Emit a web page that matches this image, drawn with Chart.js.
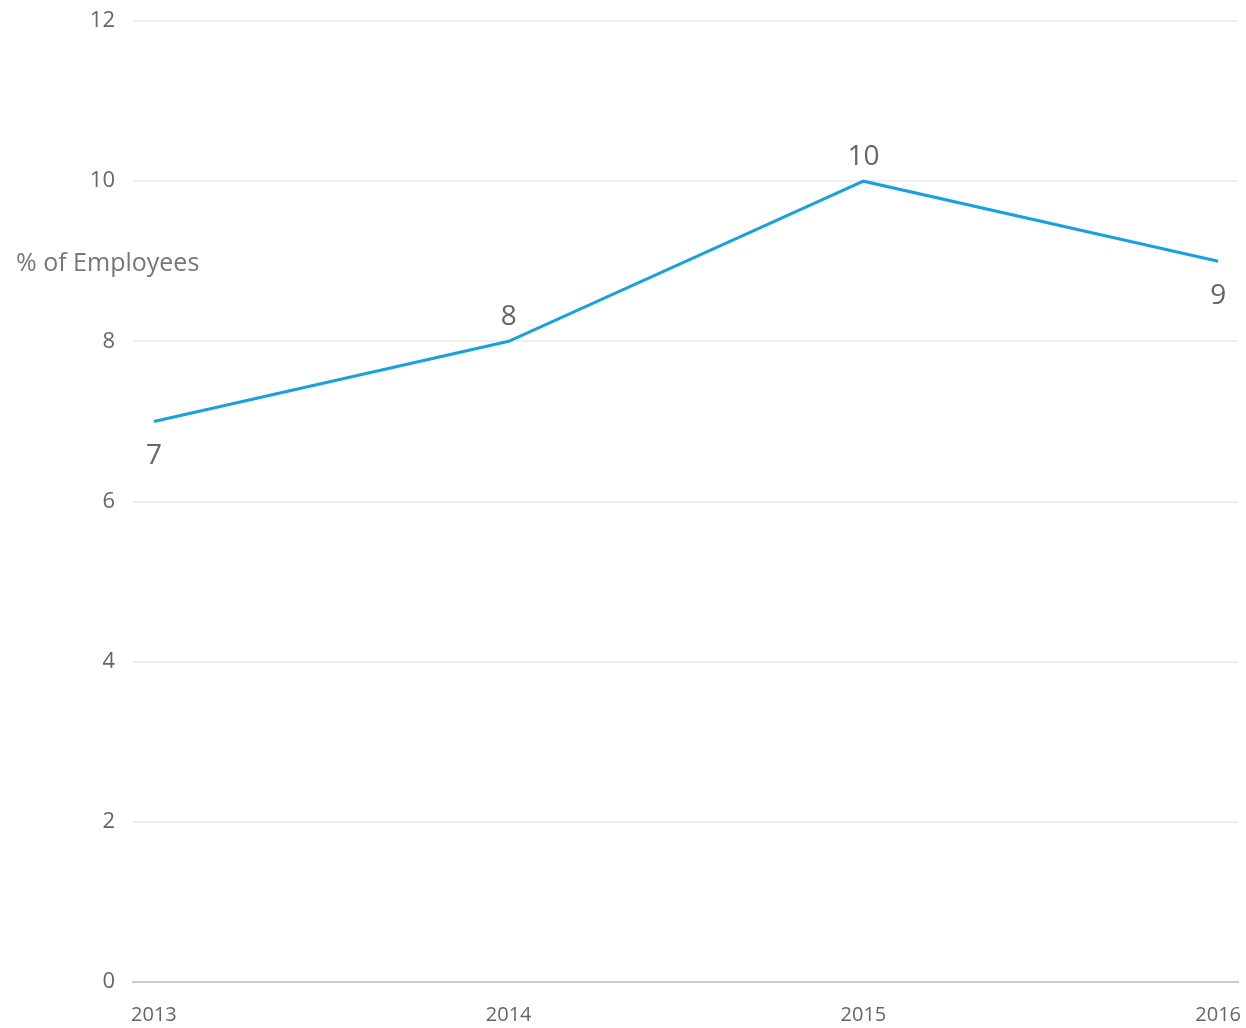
<!DOCTYPE html>
<html>
<head>
<meta charset="utf-8">
<script src="https://cdn.jsdelivr.net/npm/chart.js@4"></script>
<style>
  html, body { margin: 0; padding: 0; background: #fff; }
  #wrap { width: 1246px; height: 1028px; position: relative; }
</style>
</head>
<body>
<div id="wrap"><canvas id="chart"></canvas></div>
<script>
const years = [2013, 2014, 2015, 2016];
const employeePct = [7, 8, 10, 9];
const yTicks = [0, 2, 4, 6, 8, 10, 12];
const axisTitle = "% of Employees";

// value labels: above when the line went up, below otherwise
const valueLabels = {
  id: "valueLabels",
  afterDatasetsDraw(chart) {
    const ctx = chart.ctx;
    const meta = chart.getDatasetMeta(0);
    ctx.save();
    ctx.font = "500 28px 'Open Sans'";
    ctx.fillStyle = "#666666";
    ctx.textAlign = "center";
    meta.data.forEach((pt, i) => {
      const v = employeePct[i];
      const up = i > 0 && v > employeePct[i - 1];
      ctx.textBaseline = up ? "bottom" : "top";
      ctx.fillText(String(v), pt.x, up ? pt.y - 10 : pt.y + 21);
    });
    ctx.restore();
  },
};

const yTitle = {
  id: "yTitle",
  afterDraw(chart) {
    const ctx = chart.ctx;
    const y = chart.scales.y.getPixelForValue(9);
    ctx.save();
    ctx.font = "25px 'Open Sans'";
    ctx.fillStyle = "#777777";
    ctx.textAlign = "left";
    ctx.textBaseline = "middle";
    ctx.fillText(axisTitle, 16, y + 3);
    ctx.restore();
  },
};

const ctx = document.getElementById("chart").getContext("2d");
new Chart(ctx, {
  type: "line",
  data: {
    datasets: [
      {
        data: years.map((yr, i) => ({ x: yr, y: employeePct[i] })),
        borderColor: "#1aa0dd",
        borderWidth: 3,
        pointRadius: 0,
        tension: 0,
      },
    ],
  },
  options: {
    responsive: true,
    maintainAspectRatio: false,
    animation: false,
    layout: { padding: { top: 21, right: 8, left: 0, bottom: 0 } },
    plugins: { legend: { display: false }, tooltip: { enabled: false } },
    scales: {
      x: {
        type: "linear",
        min: 2012.941,
        max: 2016.056,
        afterBuildTicks: (scale) => {
          scale.ticks = years.map((v) => ({ value: v }));
        },
        afterFit: (scale) => {
          scale.height = 46;
          scale.paddingLeft = 0;
          scale.paddingRight = 0;
        },
        grid: { display: false },
        border: { display: true, color: "#cccccc", width: 2 },
        ticks: {
          color: "#666666",
          font: { family: "Open Sans", size: 20 },
          padding: 13,
          callback: (v) => String(v),
          maxRotation: 0,
        },
      },
      y: {
        min: 0,
        max: 12,
        afterBuildTicks: (scale) => {
          scale.ticks = yTicks.map((v) => ({ value: v }));
        },
        afterFit: (scale) => {
          scale.width = 133;
          scale.paddingTop = 0;
          scale.paddingBottom = 0;
        },
        border: { display: false },
        grid: {
          color: (c) => (c.tick && c.tick.value === 0 ? "#cccccc" : "#eeeeee"),
          lineWidth: 2,
          drawTicks: false,
        },
        ticks: {
          color: "#666666",
          font: { family: "Open Sans", size: 22 },
          padding: 18,
        },
      },
    },
  },
  plugins: [valueLabels, yTitle],
});
</script>
</body>
</html>
